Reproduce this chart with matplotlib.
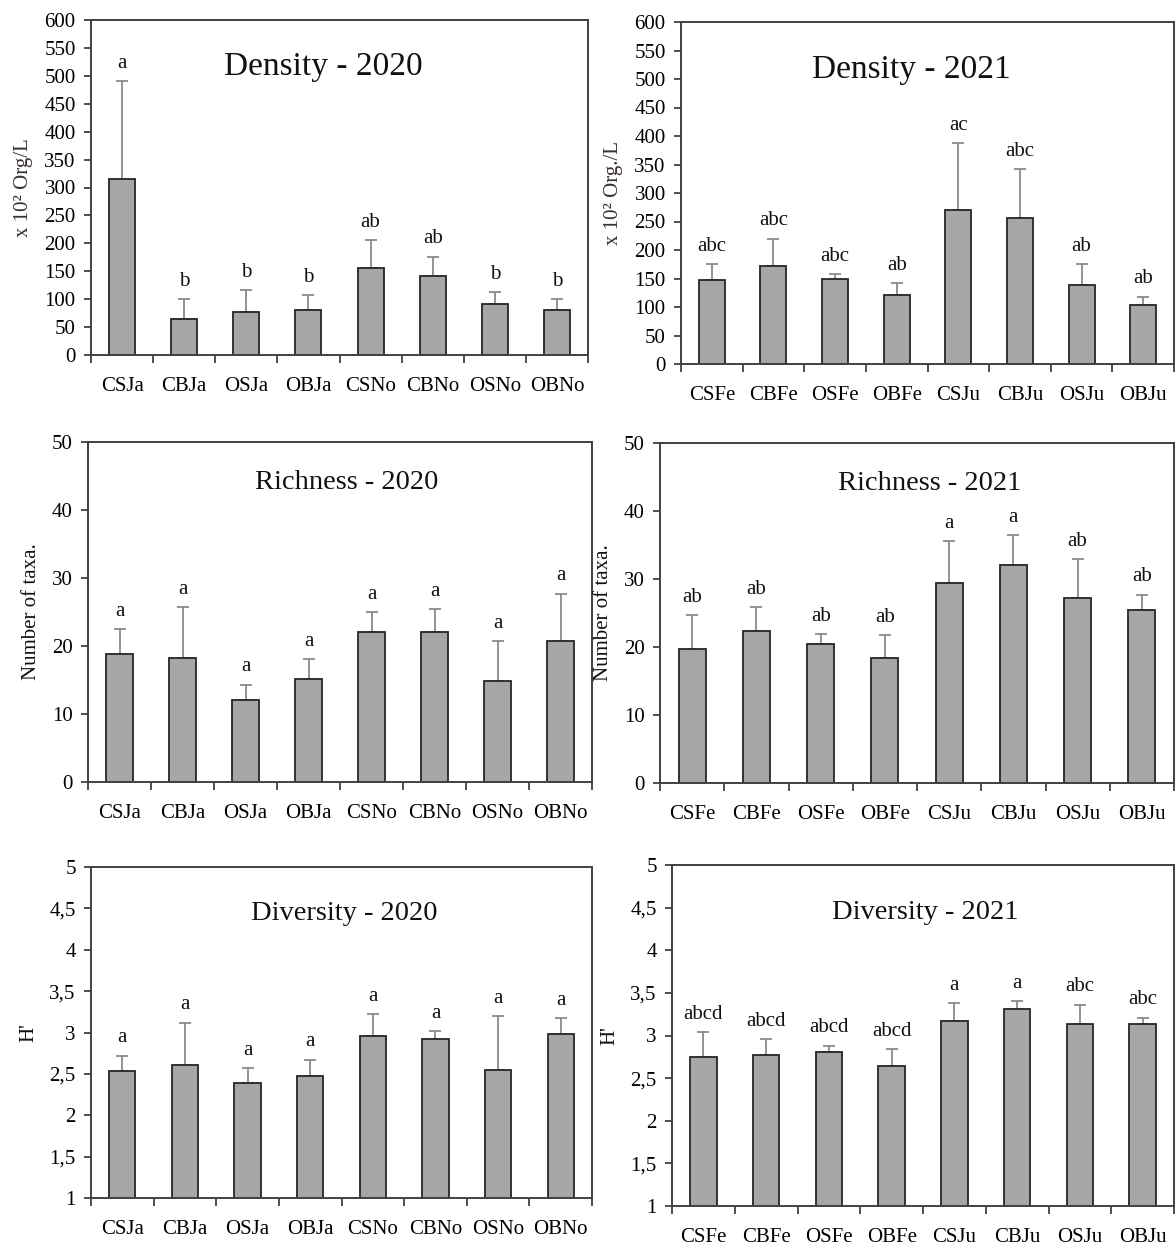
import matplotlib
matplotlib.use("Agg")
import matplotlib.pyplot as plt
import numpy as np

plt.rcParams['font.family'] = ['Liberation Serif', 'DejaVu Serif']

cats_2020 = ["CSJa", "CBJa", "OSJa", "OBJa", "CSNo", "CBNo", "OSNo", "OBNo"]
cats_2021 = ["CSFe", "CBFe", "OSFe", "OBFe", "CSJu", "CBJu", "OSJu", "OBJu"]

dens_2020 = [316, 65, 77, 80, 155, 142, 92, 80]
dens_2020_err = [174, 35, 39, 27, 51, 34, 21, 20]
dens_2020_let = ["a", "b", "b", "b", "ab", "ab", "b", "b"]

dens_2021 = [148, 172, 150, 121, 271, 256, 139, 103]
dens_2021_err = [27, 48, 8, 21, 117, 86, 36, 15]
dens_2021_let = ["abc", "abc", "abc", "ab", "ac", "abc", "ab", "ab"]

rich_2020 = [18.8, 18.3, 12.1, 15.1, 22.0, 22.0, 14.9, 20.8]
rich_2020_err = [3.7, 7.4, 2.2, 3.0, 3.0, 3.4, 5.8, 6.9]
rich_2020_let = ["a"] * 8

rich_2021 = [19.7, 22.3, 20.4, 18.4, 29.4, 32.0, 27.2, 25.4]
rich_2021_err = [5.0, 3.6, 1.5, 3.3, 6.2, 4.4, 5.7, 2.3]
rich_2021_let = ["ab", "ab", "ab", "ab", "a", "a", "ab", "ab"]

div_2020 = [2.53, 2.61, 2.39, 2.47, 2.96, 2.92, 2.55, 2.98]
div_2020_err = [0.19, 0.51, 0.18, 0.20, 0.26, 0.10, 0.65, 0.19]
div_2020_let = ["a"] * 8

div_2021 = [2.75, 2.77, 2.81, 2.64, 3.17, 3.31, 3.13, 3.13]
div_2021_err = [0.29, 0.19, 0.07, 0.20, 0.21, 0.09, 0.23, 0.08]
div_2021_let = ["abcd", "abcd", "abcd", "abcd", "a", "a", "abc", "abc"]

W, H = 1176, 1246
fig = plt.figure(figsize=(W / 100, H / 100), dpi=100)


def px_axes(l, t, r, b):
    return fig.add_axes([l / W, 1 - b / H, (r - l) / W, (b - t) / H])


def panel(box, cats, vals, errs, lets, title, ylabel, ylim, yticks, yticklabels,
          title_size, title_x, title_y, label_color):
    ax = px_axes(*box)
    x = np.arange(len(cats))
    ax.bar(x, vals, width=0.42, color="#a6a6a6", edgecolor="#262626",
           linewidth=1.3, zorder=2)
    ax.errorbar(x, vals, yerr=[np.zeros(len(vals)), errs], fmt="none",
                ecolor="#8a8a8a", elinewidth=1.3, capsize=4, capthick=1.3, zorder=1)
    tops = np.array(vals) + np.array(errs)
    for xi, ti, lt in zip(x, tops, lets):
        ax.annotate(lt, (xi, ti), xytext=(0, 6), textcoords="offset points",
                    ha="center", va="bottom", fontsize=15, color="#111111")
    ax.set_xlim(-0.5, len(cats) - 0.5)
    ax.set_ylim(*ylim)
    ax.set_yticks(yticks)
    ax.set_yticklabels(yticklabels)
    ax.set_xticks(x)
    ax.set_xticklabels(cats)
    ax.set_xticks(np.arange(-0.5, len(cats), 1.0), minor=True)
    ax.tick_params(axis="x", which="major", length=0, pad=16, labelsize=15)
    ax.tick_params(axis="x", which="minor", length=6, width=1.3, direction="out",
                   color="#404040")
    ax.tick_params(axis="y", length=5, width=1.3, direction="out", color="#404040",
                   labelsize=15, pad=6)
    for s in ax.spines.values():
        s.set_color("#404040")
        s.set_linewidth(1.4)
    ax.text(title_x, title_y, title, transform=ax.transAxes, ha="center", va="center",
            fontsize=title_size, color="#111111")
    ax.set_ylabel(ylabel, fontsize=15, color=label_color, labelpad=8)
    return ax


dens_ticks = list(range(0, 601, 50))
rich_ticks = list(range(0, 51, 10))
div_ticks = [1, 1.5, 2, 2.5, 3, 3.5, 4, 4.5, 5]
div_labels = [f"{v:g}".replace(".", ",") for v in div_ticks]

panel((91, 20, 588, 355), cats_2020, dens_2020, dens_2020_err, dens_2020_let,
      "Density - 2020", "x 10² Org/L", (0, 600), dens_ticks,
      [str(v) for v in dens_ticks], 24, 0.467, 0.86, "#3a3030")
panel((681, 22, 1174, 364), cats_2021, dens_2021, dens_2021_err, dens_2021_let,
      "Density - 2021", "x 10² Org./L", (0, 600), dens_ticks,
      [str(v) for v in dens_ticks], 24, 0.467, 0.86, "#3a3030")
panel((88, 442, 592, 782), cats_2020, rich_2020, rich_2020_err, rich_2020_let,
      "Richness - 2020", "Number of taxa.", (0, 50), rich_ticks,
      [str(v) for v in rich_ticks], 20.5, 0.514, 0.88, "#111111")
panel((660, 443, 1174, 783), cats_2021, rich_2021, rich_2021_err, rich_2021_let,
      "Richness - 2021", "Number of taxa.", (0, 50), rich_ticks,
      [str(v) for v in rich_ticks], 20.5, 0.525, 0.88, "#111111")
panel((91, 867, 592, 1198), cats_2020, div_2020, div_2020_err, div_2020_let,
      "Diversity - 2020", "H'", (1, 5), div_ticks, div_labels, 20.5, 0.505, 0.86,
      "#111111")
panel((672, 865, 1174, 1206), cats_2021, div_2021, div_2021_err, div_2021_let,
      "Diversity - 2021", "H'", (1, 5), div_ticks, div_labels, 20.5, 0.504, 0.86,
      "#111111")

fig.savefig("out.png", dpi=100)
